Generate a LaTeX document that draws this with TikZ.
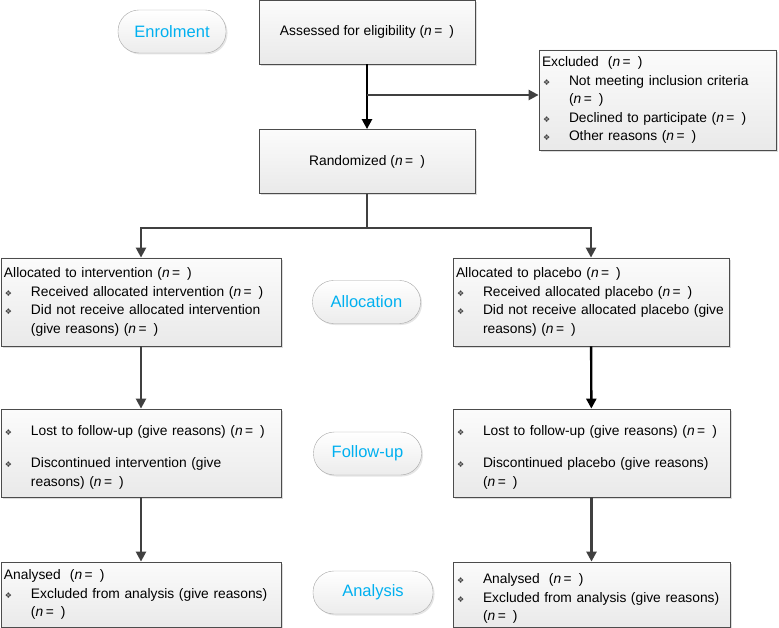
\documentclass[tikz,border=0pt]{standalone}
\usepackage{fontspec}
\setmainfont{Liberation Sans}
\newfontfamily\dingfont{DejaVu Sans}
\usepackage[x11names, rgb]{xcolor}
\usetikzlibrary{arrows.meta,shadows}

\definecolor{stagetext}{RGB}{0,176,240}
\definecolor{linkgray}{RGB}{64,64,64}
\newcommand{\nn}{(\textit{n}\hspace{2.5pt}=\hspace{7pt})}
\newcommand{\bul}{{\dingfont\fontsize{8}{6}\selectfont\color{black!75}❖}}
\newcommand{\itm}[1]{\par\hangindent=27pt\hangafter=1\noindent\makebox[27pt][l]{\hspace{1pt}\bul}#1}

\begin{document}
\begin{tikzpicture}[x=1pt,y=-1pt]
    \tikzstyle{box}=[draw=gray!60!black, line width=0.8pt, top color=gray!3, bottom color=gray!17,
        drop shadow={shadow xshift=2pt,shadow yshift=-2pt,fill=gray!55},
        inner xsep=3pt, inner ysep=0pt, font=\fontsize{13.8}{18.5}\selectfont]
    \tikzstyle{stage}=[draw=gray!70, rounded corners=21pt, top color=white, bottom color=gray!15,
        drop shadow={shadow xshift=1.5pt,shadow yshift=-1.5pt,fill=gray!40},
        text=stagetext, font=\fontsize{16.5}{18}\selectfont, minimum width=108pt, minimum height=43pt]
    \tikzstyle{link}=[draw=linkgray, line width=2.4pt, -{Triangle[length=10pt,width=10pt]}]
    \useasboundingbox (0,0) rectangle (779,628);
    \node [stage] (enrol) at (172,31.5) {Enrolment};
    \node [stage] (allocstage) at (366.5,302) {Allocation};
    \node [stage] (followstage) at (367.5,453.5) {Follow-up};
    \node [stage, minimum width=120pt] (analysisstage) at (373,592.5) {Analysis};
    \node [box, minimum width=216pt, minimum height=64pt, align=center] (assess) at (367,32)
        {Assessed for eligibility \nn};
    \node [box, minimum width=216pt, minimum height=64pt, align=center] (rand) at (367,161.5)
        {Randomized \nn};
    \node [box, minimum width=237pt, minimum height=100pt, text width=231pt] (excl) at (657.5,100)
        {\noindent Excluded\ \ \nn
         \itm{Not meeting inclusion criteria\newline\nn}
         \itm{Declined to participate \nn}
         \itm{Other reasons \nn}\par};
    \node [box, minimum width=280pt, minimum height=88pt, text width=274pt] (alloc1) at (141,302)
        {\noindent Allocated to intervention \nn
         \itm{Received allocated intervention \nn}
         \itm{Did not receive allocated intervention\newline(give reasons) \nn}\par};
    \node [box, minimum width=276pt, minimum height=88pt, text width=270pt] (alloc2) at (591,302)
        {\noindent Allocated to placebo \nn
         \itm{Received allocated placebo \nn}
         \itm{\mbox{Did not receive allocated placebo (give}\newline reasons) \nn}\par};
    \node [box, minimum width=280pt, minimum height=88pt, text width=274pt] (follow1) at (141,453)
        {\itm{Lost to follow-up (give reasons) \nn}\par\vspace{14pt}
         \itm{Discontinued intervention (give\newline reasons) \nn}\par};
    \node [box, minimum width=277pt, minimum height=88pt, text width=271pt] (follow2) at (591.5,453)
        {\itm{Lost to follow-up (give reasons) \nn}\par\vspace{14pt}
         \itm{Discontinued placebo (give reasons)\newline\nn}\par};
    \node [box, minimum width=280pt, minimum height=65pt, text width=274pt] (analysis1) at (141,594.5)
        {\noindent Analysed\ \ \nn
         \itm{Excluded from analysis (give reasons)\newline\nn}\par};
    \node [box, minimum width=277pt, minimum height=65pt, text width=271pt] (analysis2) at (591.5,594.5)
        {\itm{Analysed\ \ \nn}
         \itm{Excluded from analysis (give reasons)\newline\nn}\par};
    \coordinate (branch) at (367,95);
    \coordinate (split) at (367,228);
    \draw [link, draw=black] (assess) -- (rand);
    \draw [link] (branch) -- (branch -| excl.west);
    \draw [link, -] (rand) -- (split);
    \draw [link] (split) -| (alloc1.north);
    \draw [link] (split) -| (alloc2.north);
    \draw [link] (alloc1) -- (follow1);
    \draw [link, draw=black] (alloc2) -- (follow2);
    \draw [link] (follow1) -- (analysis1);
    \draw [link] (follow2) -- (analysis2);
\end{tikzpicture}
\end{document}
